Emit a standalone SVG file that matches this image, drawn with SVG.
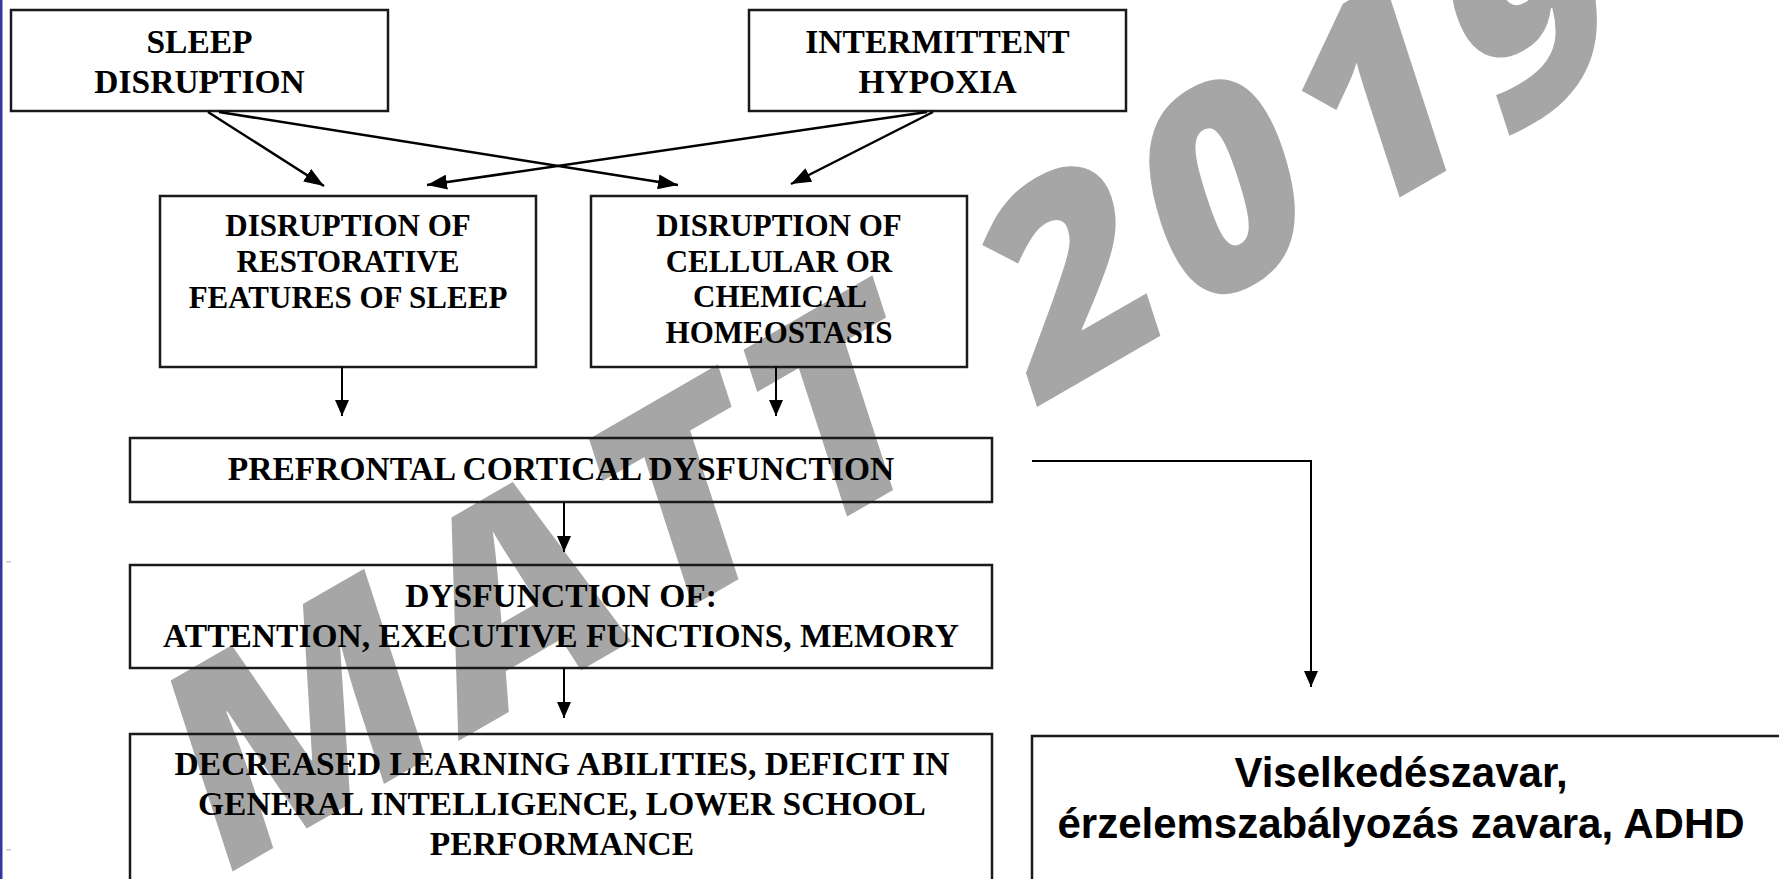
<svg xmlns="http://www.w3.org/2000/svg" width="1779" height="879" viewBox="0 0 1779 879">
<defs>
<style>
.box{fill:none;stroke:#1a1a1a;stroke-width:2.5}
.t{font-family:"Liberation Serif","Times New Roman",serif;font-weight:bold;font-size:33.5px;fill:#000;text-anchor:middle}
.m{font-size:31px}
.a{font-family:"Liberation Sans",Arial,sans-serif;font-weight:bold;font-size:42px;fill:#000;text-anchor:middle}
.ln{fill:none;stroke:#000;stroke-width:2.5}
.ln2{fill:none;stroke:#000;stroke-width:2}
.wm{font-family:"Open Sans","Liberation Sans",sans-serif;font-weight:800;font-size:275px;fill:#a6a6a6;letter-spacing:16px}
</style>
<marker id="ab" viewBox="0 0 10 10" refX="10" refY="5" markerWidth="20" markerHeight="15" markerUnits="userSpaceOnUse" orient="auto" preserveAspectRatio="none"><path d="M0,0 L10,5 L0,10 z" fill="#000"/></marker>
<marker id="as" viewBox="0 0 10 10" refX="10" refY="5" markerWidth="16" markerHeight="14" markerUnits="userSpaceOnUse" orient="auto" preserveAspectRatio="none"><path d="M0,0 L10,5 L0,10 z" fill="#000"/></marker>
</defs>
<rect x="0" y="0" width="1779" height="879" fill="#fff"/>
<rect x="0" y="0" width="2.5" height="879" fill="#3535a0"/>
<rect x="6" y="561" width="5" height="1.5" fill="#c8c8c8"/>
<rect x="6" y="849" width="5" height="1.5" fill="#c8c8c8"/>

<g id="watermark">
<text class="wm" transform="translate(235,870) rotate(-30) skewX(-12)" x="-24" y="0">MATT 2019</text>
</g>

<g id="sleep-disruption">
<rect class="box" x="11" y="10" width="377" height="101"/>
<text class="t" x="199.5" y="53">SLEEP</text>
<text class="t" x="199.5" y="93">DISRUPTION</text>
</g>
<g id="intermittent-hypoxia">
<rect class="box" x="749" y="10" width="377" height="101"/>
<text class="t" x="937.5" y="53">INTERMITTENT</text>
<text class="t" x="937.5" y="93">HYPOXIA</text>
</g>
<g id="restorative">
<rect class="box" x="160" y="196" width="376" height="171"/>
<text class="t m" x="348" y="236">DISRUPTION OF</text>
<text class="t m" x="348" y="272">RESTORATIVE</text>
<text class="t m" x="348" y="308">FEATURES OF SLEEP</text>
</g>
<g id="cellular">
<rect class="box" x="591" y="196" width="376" height="171"/>
<text class="t m" x="779" y="236">DISRUPTION OF</text>
<text class="t m" x="779" y="272">CELLULAR OR</text>
<text class="t m" x="780" y="307">CHEMICAL</text>
<text class="t m" x="779" y="343">HOMEOSTASIS</text>
</g>
<g id="prefrontal">
<rect class="box" x="130" y="438" width="862" height="64"/>
<text class="t" x="561" y="480">PREFRONTAL CORTICAL DYSFUNCTION</text>
</g>
<g id="dysfunction">
<rect class="box" x="130" y="565" width="862" height="103"/>
<text class="t" x="561" y="607">DYSFUNCTION OF:</text>
<text class="t" x="561" y="647">ATTENTION, EXECUTIVE FUNCTIONS, MEMORY</text>
</g>
<g id="decreased">
<rect class="box" x="130" y="734" width="862" height="160"/>
<text class="t" x="562" y="775">DECREASED LEARNING ABILITIES, DEFICIT IN</text>
<text class="t" x="562" y="815">GENERAL INTELLIGENCE, LOWER SCHOOL</text>
<text class="t" x="562" y="855">PERFORMANCE</text>
</g>
<g id="viselkedes">
<rect class="box" x="1032" y="736" width="780" height="160"/>
<text class="a" x="1401" y="787">Viselkedészavar,</text>
<text class="a" x="1401" y="838">érzelemszabályozás zavara, ADHD</text>
</g>

<g id="connectors">
<line class="ln" x1="208" y1="112" x2="324" y2="186" marker-end="url(#ab)"/>
<line class="ln" x1="219" y1="112" x2="678" y2="185" marker-end="url(#ab)"/>
<line class="ln" x1="927" y1="112" x2="427" y2="185" marker-end="url(#ab)"/>
<line class="ln" x1="933" y1="112" x2="791" y2="184" marker-end="url(#ab)"/>
<line class="ln2" x1="342" y1="367" x2="342" y2="416" marker-end="url(#as)"/>
<line class="ln2" x1="776" y1="367" x2="776" y2="416" marker-end="url(#as)"/>
<line class="ln2" x1="564" y1="502" x2="564" y2="552" marker-end="url(#as)"/>
<line class="ln2" x1="564" y1="668" x2="564" y2="718" marker-end="url(#as)"/>
<polyline class="ln2" points="1032,461 1311,461 1311,687" marker-end="url(#as)"/>
</g>
</svg>
